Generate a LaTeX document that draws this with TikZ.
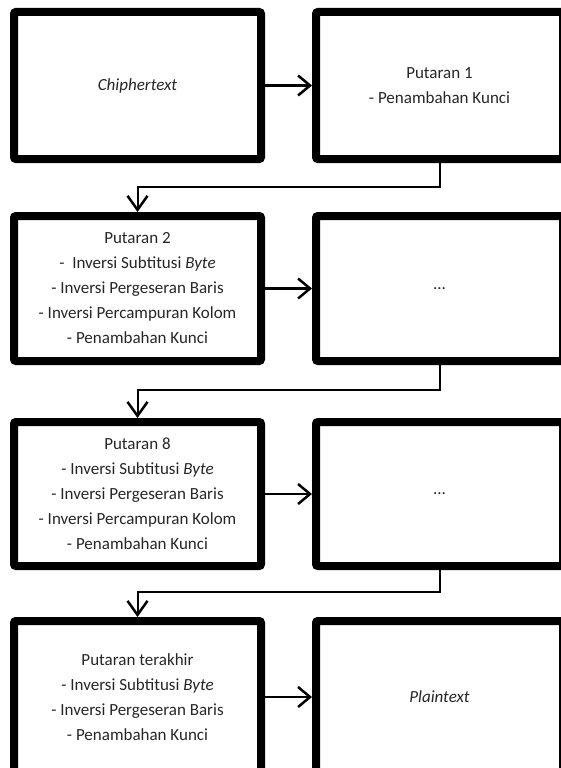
\documentclass[tikz,border=0pt]{standalone}
\usepackage{fontspec}
\setmainfont{Carlito}
\usetikzlibrary{arrows.meta}

\tikzset{
    box/.style={draw, line width=8pt, rounded corners=2pt, minimum width=247pt, align=center,
        font=\fontsize{17}{25}\selectfont, text=black!85},
    flow/.style={line width=2.2pt, -{Straight Barb[length=12pt, width=20pt, line width=2.5pt]}},
    drop/.style={line width=2pt, -{Straight Barb[length=14pt, width=20pt, line width=2.5pt]}},
}

\begin{document}
\begin{tikzpicture}[x=1pt, y=1pt]
    \useasboundingbox (0,0) rectangle (560,-768);

    % Row 1
    \node[box, minimum height=147pt] (Cipher) at (137.5,-85.5) {\textit{Chiphertext}};
    \node[box, minimum height=147pt] (Round1) at (439.5,-85.5) {Putaran 1\\- Penambahan Kunci};

    % Row 2
    \node[box, minimum height=145pt] (Round2) at (137.5,-288.5)
        {Putaran 2\\-\ \ Inversi Subtitusi \textit{Byte}\\- Inversi Pergeseran Baris\\- Inversi Percampuran Kolom\\- Penambahan Kunci};
    \node[box, minimum height=145pt] (Dots2) at (439.5,-288.5) {...};

    % Row 3
    \node[box, minimum height=144pt] (Round8) at (137.5,-494) 
        {Putaran 8\\- Inversi Subtitusi \textit{Byte}\\- Inversi Pergeseran Baris\\- Inversi Percampuran Kolom\\- Penambahan Kunci};
    \node[box, minimum height=144pt] (Dots8) at (439.5,-494) {...};

    % Row 4
    \node[box, minimum height=152pt] (Last) at (137.5,-697)
        {Putaran terakhir\\- Inversi Subtitusi \textit{Byte}\\- Inversi Pergeseran Baris\\- Penambahan Kunci};
    \node[box, minimum height=152pt] (Plain) at (439.5,-697) {\textit{Plaintext}};

    % Arrows inside each row
    \foreach \a/\b in {Cipher/Round1, Round2/Dots2, Round8/Dots8, Last/Plain}
        \draw[flow] (\a) -- (\b);

    % Arrows from one row to the next
    \foreach \a/\b/\d in {Round1/Round2/24, Dots2/Round8/25, Dots8/Last/22}
        \draw[drop] (\a.south) -- ++(0,-\d) -| (\b.north);
\end{tikzpicture}
\end{document}
